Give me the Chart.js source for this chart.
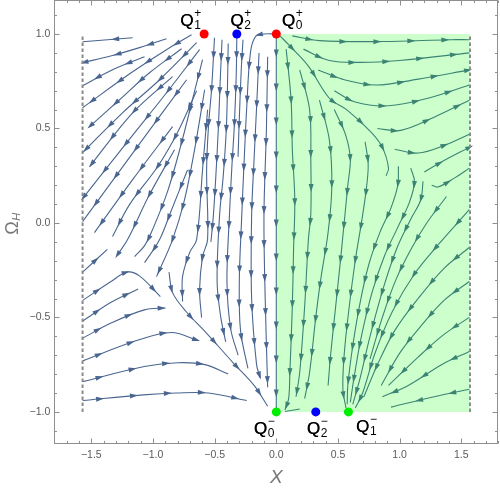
<!DOCTYPE html>
<html>
<head>
<meta charset="utf-8">
<title>Phase portrait X - Omega_H</title>
<script src="https://cdn.jsdelivr.net/npm/chart.js@4.4.1/dist/chart.umd.min.js"></script>
<style>
  html, body { margin: 0; padding: 0; background: #fff; }
  #plot { display: block; }
</style>
</head>
<body>
<canvas id="plot" width="500" height="490"></canvas>
<script>
// tick labels
const xTicks = [-1.5, -1, -0.5, 0, 0.5, 1, 1.5];
const yTicks = [-1, -0.5, 0, 0.5, 1];

// critical points
const qX = [-0.585, -0.32, 0, 0, 0.32, 0.585];
const qY = [1, 1, 1, -1, -1, -1];
const qSub = ['1', '2', '0', '0', '2', '1'];
const qSup = ['+', '+', '+', '\u2212', '\u2212', '\u2212'];
const qColors = ['#ff0000', '#0000ff', '#ff0000', '#00ee00', '#0000ff', '#00ee00'];

// walls at X = ±π/2 and the shaded strip 0 ≤ X ≤ π/2
const wallX = [-1.5708, 1.5708];
const wallY = [-1, 1];
const shadeX = [0, 1.5708];

// streamlines, points [X, Ω_H] in flow order
const leftFan = [
  [[-1.165, 0.98], [-1.368, 0.97], [-1.571, 0.959]],
  [[-0.89, 0.975], [-1.109, 0.928], [-1.336, 0.885], [-1.571, 0.848]],
  [[-1.068, 0.88], [-1.328, 0.811], [-1.571, 0.726]],
  [[-0.687, 0.996], [-0.89, 0.917], [-1.165, 0.8], [-1.571, 0.61]],
  [[-0.768, 0.922], [-1.028, 0.795], [-1.271, 0.652], [-1.514, 0.51]],
  [[-0.646, 0.954], [-0.946, 0.758], [-1.247, 0.583], [-1.571, 0.372]],
  [[-0.841, 0.774], [-1.165, 0.583], [-1.514, 0.298]],
  [[-0.622, 0.917], [-0.89, 0.689], [-1.214, 0.424], [-1.571, 0.129]],
  [[-0.727, 0.758], [-1.084, 0.441], [-1.571, 0.007]],
  [[-0.841, 0.51], [-1.165, 0.229], [-1.474, -0.051]],
  [[-0.646, 0.7], [-0.8, 0.48], [-0.96, 0.3], [-1.19, 0.097], [-1.328, -0.072]],
  [[-0.825, 0.387], [-1.028, 0.15], [-1.206, -0.088], [-1.287, -0.168]],
  [[-0.598, 0.864], [-0.68, 0.652], [-0.77, 0.42], [-0.88, 0.17], [-1.0, -0.03], [-1.068, -0.12], [-1.149, -0.178]],
  [[-0.72, 0.28], [-0.849, 0.07], [-0.946, -0.088], [-1.068, -0.21]],
  [[-0.581, 0.705], [-0.663, 0.387], [-0.744, 0.123], [-0.841, -0.088], [-0.971, -0.284]],
  [[-0.557, 0.599], [-0.598, 0.282], [-0.646, -0.088], [-0.703, -0.157], [-0.76, -0.284], [-0.76, -0.416]],
  [[-0.501, 0.98], [-0.525, 0.705], [-0.549, 0.52], [-0.565, 0.282], [-0.557, -0.088], [-0.598, -0.178], [-0.622, -0.353], [-0.606, -0.501]]
];

const leftDown = [
  [[-0.44, 0.97], [-0.455, 0.75], [-0.47, 0.5], [-0.49, 0.25], [-0.51, 0.04], [-0.53, -0.1]],
  [[-0.39, 0.95], [-0.395, 0.75], [-0.405, 0.5], [-0.43, 0.25], [-0.46, 0.04], [-0.48, -0.31], [-0.45, -0.5], [-0.41, -0.63]],
  [[-0.32, 0.98], [-0.325, 0.78], [-0.34, 0.52], [-0.36, 0.3], [-0.38, 0.04], [-0.4, -0.31], [-0.37, -0.56], [-0.31, -0.7]],
  [[-0.27, 0.97], [-0.285, 0.8], [-0.3, 0.55], [-0.31, 0.35]],
  [[0, 1.0], [-0.1, 1.0], [-0.17, 0.985], [-0.21, 0.9], [-0.24, 0.61], [-0.26, 0.34], [-0.28, 0.04], [-0.3, -0.31], [-0.29, -0.57], [-0.23, -0.77]],
  [[-0.14, 0.9], [-0.16, 0.61], [-0.18, 0.34], [-0.2, 0.04], [-0.2, -0.4], [-0.16, -0.75], [-0.13, -0.82]],
  [[-0.07, 0.88], [-0.08, 0.5], [-0.1, 0.04], [-0.09, -0.4], [-0.07, -0.87]],
  [[0, 0.99], [0, 0.5], [0, 0], [0, -0.5], [0, -0.99]]
];

const leftBottom = [
  [[-1.57, -0.26], [-1.37, -0.14]],
  [[-1.57, -0.41], [-1.34, -0.31], [-1.21, -0.26], [-1.11, -0.28], [-0.94, -0.39]],
  [[-1.57, -0.52], [-1.34, -0.42], [-1.12, -0.35]],
  [[-1.57, -0.61], [-1.34, -0.53], [-1.07, -0.46], [-0.9, -0.45]],
  [[-1.57, -0.73], [-1.12, -0.62], [-0.85, -0.58], [-0.64, -0.62]],
  [[-1.57, -0.84], [-1.07, -0.76], [-0.8, -0.74], [-0.58, -0.75], [-0.39, -0.8]],
  [[-1.57, -0.94], [-1.08, -0.91], [-0.81, -0.9], [-0.55, -0.9], [-0.24, -0.94]],
  [[-0.87, -0.26], [-0.84, -0.37], [-0.73, -0.47], [-0.57, -0.58], [-0.35, -0.74], [-0.18, -0.86], [-0.07, -0.97]]
];

const rightTop = [
  [[0.13, 0.99], [0.35, 0.965], [0.86, 0.96], [1.41, 0.97], [1.565, 0.97]],
  [[0.22, 0.92], [0.43, 0.86], [0.68, 0.85], [1.0, 0.86], [1.565, 0.9]],
  [[0.34, 0.81], [0.54, 0.76], [0.81, 0.73], [1.14, 0.76], [1.565, 0.81]],
  [[0.47, 0.7], [0.64, 0.64], [0.91, 0.62], [1.23, 0.66], [1.565, 0.73]],
  [[0.82, 0.5], [1.01, 0.49], [1.28, 0.56], [1.565, 0.65]],
  [[0.96, 0.39], [1.15, 0.37], [1.36, 0.41], [1.565, 0.47]],
  [[1.2, 0.27], [1.36, 0.33], [1.565, 0.4]],
  [[1.26, 0.2], [1.31, 0.19], [1.45, 0.24], [1.565, 0.29]],
  [[0.03, 0.99], [0.12, 0.93], [0.26, 0.83], [0.43, 0.66], [0.57, 0.6], [0.77, 0.48], [0.86, 0.4], [0.91, 0.29], [0.89, 0.25]]
];

const rightDown = [
  [[0.08, 0.92], [0.12, 0.65], [0.13, 0.39], [0.15, 0.12], [0.14, -0.14], [0.13, -0.44], [0.11, -0.79], [0.1, -0.93], [0.07, -0.99]],
  [[0.19, 0.81], [0.27, 0.6], [0.28, 0.33], [0.28, 0.05], [0.26, -0.09], [0.23, -0.44], [0.19, -0.79], [0.16, -0.92]],
  [[0.35, 0.65], [0.43, 0.44], [0.45, 0.19], [0.42, -0.05], [0.36, -0.3], [0.32, -0.5], [0.27, -0.79], [0.23, -0.93]],
  [[0.47, 0.6], [0.56, 0.47], [0.6, 0.34], [0.58, 0.2], [0.55, 0.0], [0.52, -0.2], [0.48, -0.45], [0.44, -0.7], [0.42, -0.86]],
  [[0.72, 0.43], [0.745, 0.31], [0.73, 0.18], [0.69, 0.0], [0.64, -0.2], [0.59, -0.45], [0.55, -0.7], [0.54, -0.88], [0.565, -0.98]],
  [[0.99, 0.3], [0.985, 0.2], [0.93, 0.08], [0.84, -0.05], [0.75, -0.22], [0.68, -0.42], [0.62, -0.65], [0.58, -0.86], [0.575, -0.96]],
  [[1.09, 0.29], [1.12, 0.22], [1.08, 0.11], [0.98, -0.03], [0.88, -0.17], [0.78, -0.36], [0.69, -0.6], [0.63, -0.82], [0.6, -0.95]],
  [[1.19, 0.22], [1.17, 0.12], [1.09, 0.02], [0.98, -0.13], [0.87, -0.34], [0.76, -0.6], [0.68, -0.82], [0.62, -0.96]],
  [[1.38, 0.14], [1.22, 0.0], [1.1, -0.13], [0.97, -0.3], [0.86, -0.5], [0.76, -0.72]]
];

const rightBottom = [
  [[1.565, 0.07], [1.32, -0.11], [1.12, -0.27], [0.94, -0.47], [0.8, -0.69], [0.7, -0.9], [0.64, -0.98]],
  [[1.565, -0.13], [1.36, -0.24], [1.15, -0.4], [0.96, -0.57], [0.82, -0.75], [0.71, -0.92]],
  [[1.565, -0.31], [1.36, -0.41], [1.18, -0.54], [1.01, -0.68], [0.85, -0.86]],
  [[1.565, -0.5], [1.36, -0.59], [1.15, -0.71], [0.91, -0.86]],
  [[1.565, -0.68], [1.34, -0.75], [1.07, -0.86], [0.86, -0.92]],
  [[1.565, -0.88], [1.28, -0.92], [0.93, -0.975]],
  [[0.19, -0.985], [0.07, -0.998]]
];

const streamColor = '#4a6690';
const fontFamily = '"Liberation Sans", Arial, sans-serif';
const fmt = v => (v < 0 ? '\u2212' : '') + Math.abs(v).toFixed(1);

const streamSets = [...leftFan, ...leftDown, ...leftBottom, ...rightTop, ...rightDown, ...rightBottom].map(line => ({
  data: line.map(([x, y]) => ({ x, y })),
  stream: true,
  showLine: true,
  borderColor: streamColor,
  borderWidth: 1.1,
  tension: 0.35,
  pointRadius: 0,
  fill: false,
  order: 3
}));

// draw an arrowhead every few px along each streamline, following the drawn bezier
const arrowPlugin = {
  id: 'streamArrows',
  afterDatasetDraw(chart, args) {
    const ds = chart.data.datasets[args.index];
    if (!ds.stream) return;
    const pts = args.meta.data;
    if (pts.length < 2) return;
    const path = [];
    for (let i = 0; i < pts.length - 1; i++) {
      const a = pts[i], b = pts[i + 1];
      const c1x = a.cp2x ?? a.x, c1y = a.cp2y ?? a.y;
      const c2x = b.cp1x ?? b.x, c2y = b.cp1y ?? b.y;
      for (let k = 0; k < 16; k++) {
        const t = k / 16, u = 1 - t;
        path.push([
          u * u * u * a.x + 3 * u * u * t * c1x + 3 * u * t * t * c2x + t * t * t * b.x,
          u * u * u * a.y + 3 * u * u * t * c1y + 3 * u * t * t * c2y + t * t * t * b.y
        ]);
      }
    }
    const last = pts[pts.length - 1];
    path.push([last.x, last.y]);

    const ctx = chart.ctx;
    const spacing = 34;
    let next = 17, run = 0;
    ctx.save();
    ctx.fillStyle = ds.borderColor;
    for (let i = 1; i < path.length; i++) {
      const dx = path[i][0] - path[i - 1][0], dy = path[i][1] - path[i - 1][1];
      const len = Math.hypot(dx, dy);
      if (!len) continue;
      while (run + len >= next) {
        const f = (next - run) / len;
        const px = path[i - 1][0] + dx * f, py = path[i - 1][1] + dy * f;
        const ux = dx / len, uy = dy / len;
        ctx.beginPath();
        ctx.moveTo(px + ux * 4.5, py + uy * 4.5);
        ctx.lineTo(px - ux * 3.5 - uy * 2.5, py - uy * 3.5 + ux * 2.5);
        ctx.lineTo(px - ux * 3.5 + uy * 2.5, py - uy * 3.5 - ux * 2.5);
        ctx.closePath();
        ctx.fill();
        next += spacing;
      }
      run += len;
    }
    ctx.restore();
  }
};

// frame with inward ticks on all four sides, axis titles, point labels
const framePlugin = {
  id: 'frameAndLabels',
  afterDraw(chart) {
    const { ctx, chartArea: ca, scales: { x, y } } = chart;
    const L = Math.round(ca.left) + 0.5, R = Math.round(ca.right) - 0.5;
    const T = Math.round(ca.top) + 0.5, B = Math.round(ca.bottom) - 0.5;
    ctx.save();
    ctx.strokeStyle = '#8f8f8f';
    ctx.lineWidth = 1;
    ctx.strokeRect(L, T, R - L, B - T);
    ctx.beginPath();
    for (let k = -18; k <= 18; k++) {
      const px = Math.round(x.getPixelForValue(k / 10)) + 0.5;
      const len = k % 5 === 0 ? 5 : 2.5;
      ctx.moveTo(px, B); ctx.lineTo(px, B - len);
      ctx.moveTo(px, T); ctx.lineTo(px, T + len);
    }
    for (let k = -11; k <= 11; k++) {
      const py = Math.round(y.getPixelForValue(k / 10)) + 0.5;
      const len = k % 5 === 0 ? 5 : 2.5;
      ctx.moveTo(L, py); ctx.lineTo(L + len, py);
      ctx.moveTo(R, py); ctx.lineTo(R - len, py);
    }
    ctx.stroke();

    // axis titles
    ctx.fillStyle = '#777';
    ctx.textAlign = 'center';
    ctx.textBaseline = 'alphabetic';
    ctx.font = 'italic 19px ' + fontFamily;
    ctx.fillText('X', (ca.left + ca.right) / 2, 483);
    ctx.save();
    ctx.translate(17.5, (ca.top + ca.bottom) / 2 + 2);
    ctx.rotate(-Math.PI / 2);
    ctx.textAlign = 'left';
    ctx.font = '18px ' + fontFamily;
    const ow = ctx.measureText('\u03A9').width;
    ctx.fillText('\u03A9', -ow / 2 - 4, 0);
    ctx.font = 'italic 11px ' + fontFamily;
    ctx.fillText('H', ow / 2 - 3.5, 2);
    ctx.restore();

    // Q labels
    const offs = [[-24, -8.3], [-6.5, -8.3], [5.5, -8.3], [-22.5, 22], [-9, 22], [7.5, 20.5]];
    ctx.fillStyle = '#000';
    ctx.textAlign = 'left';
    qX.forEach((qx, i) => {
      const px = x.getPixelForValue(qx) + offs[i][0];
      const py = y.getPixelForValue(qY[i]) + offs[i][1];
      ctx.font = '17px ' + fontFamily;
      ctx.fillText('Q', px, py);
      ctx.fillText('Q', px + 0.4, py);
      const w = ctx.measureText('Q').width + 0.8;
      ctx.font = '12px ' + fontFamily;
      ctx.fillText(qSub[i], px + w, py + 3);
      ctx.fillText(qSup[i], px + w, py - 9);
    });
    ctx.restore();
  }
};

const noPad = s => { s.paddingTop = 0; s.paddingBottom = 0; s.paddingLeft = 0; s.paddingRight = 0; };

new Chart(document.getElementById('plot'), {
  type: 'scatter',
  data: {
    datasets: [
      ...streamSets,
      {
        data: [{ x: shadeX[0], y: wallY[1] }, { x: shadeX[1], y: wallY[1] }],
        showLine: true,
        borderColor: 'transparent',
        borderWidth: 1,
        pointRadius: 0,
        fill: { value: wallY[0] },
        backgroundColor: 'rgba(0, 255, 0, 0.2)',
        order: 2
      },
      ...wallX.map(wx => ({
        data: [{ x: wx, y: wallY[0] }, { x: wx, y: wallY[1] }],
        showLine: true,
        borderColor: '#8a8a8a',
        borderWidth: 2,
        borderDash: [3.5, 2.5],
        pointRadius: 0,
        fill: false,
        order: 1
      })),
      {
        data: qX.map((v, i) => ({ x: v, y: qY[i] })),
        showLine: false,
        pointRadius: 4.5,
        pointBorderWidth: 0,
        pointBackgroundColor: qColors,
        pointBorderColor: qColors,
        order: 0,
        clip: false
      }
    ]
  },
  options: {
    responsive: false,
    animation: false,
    events: [],
    devicePixelRatio: 1,
    layout: { autoPadding: false, padding: { top: 0, right: 1.7, left: 0, bottom: 0 } },
    plugins: { legend: { display: false }, tooltip: { enabled: false } },
    scales: {
      x: {
        type: 'linear',
        min: -1.8,
        max: 1.8,
        grid: { display: false, drawTicks: false },
        border: { display: false },
        ticks: { color: '#5a5a5a', font: { family: fontFamily, size: 10.5 }, padding: 5, callback: v => fmt(v) },
        afterBuildTicks: s => { s.ticks = xTicks.map(v => ({ value: v })); },
        afterFit: s => { s.height = 46; noPad(s); }
      },
      y: {
        type: 'linear',
        min: -1.17,
        max: 1.18,
        grid: { display: false, drawTicks: false },
        border: { display: false },
        ticks: { color: '#5a5a5a', font: { family: fontFamily, size: 10.5 }, padding: 4, callback: v => fmt(v) },
        afterBuildTicks: s => { s.ticks = yTicks.map(v => ({ value: v })); },
        afterFit: s => { s.width = 54.3; noPad(s); }
      }
    }
  },
  plugins: [arrowPlugin, framePlugin]
});
</script>
</body>
</html>
